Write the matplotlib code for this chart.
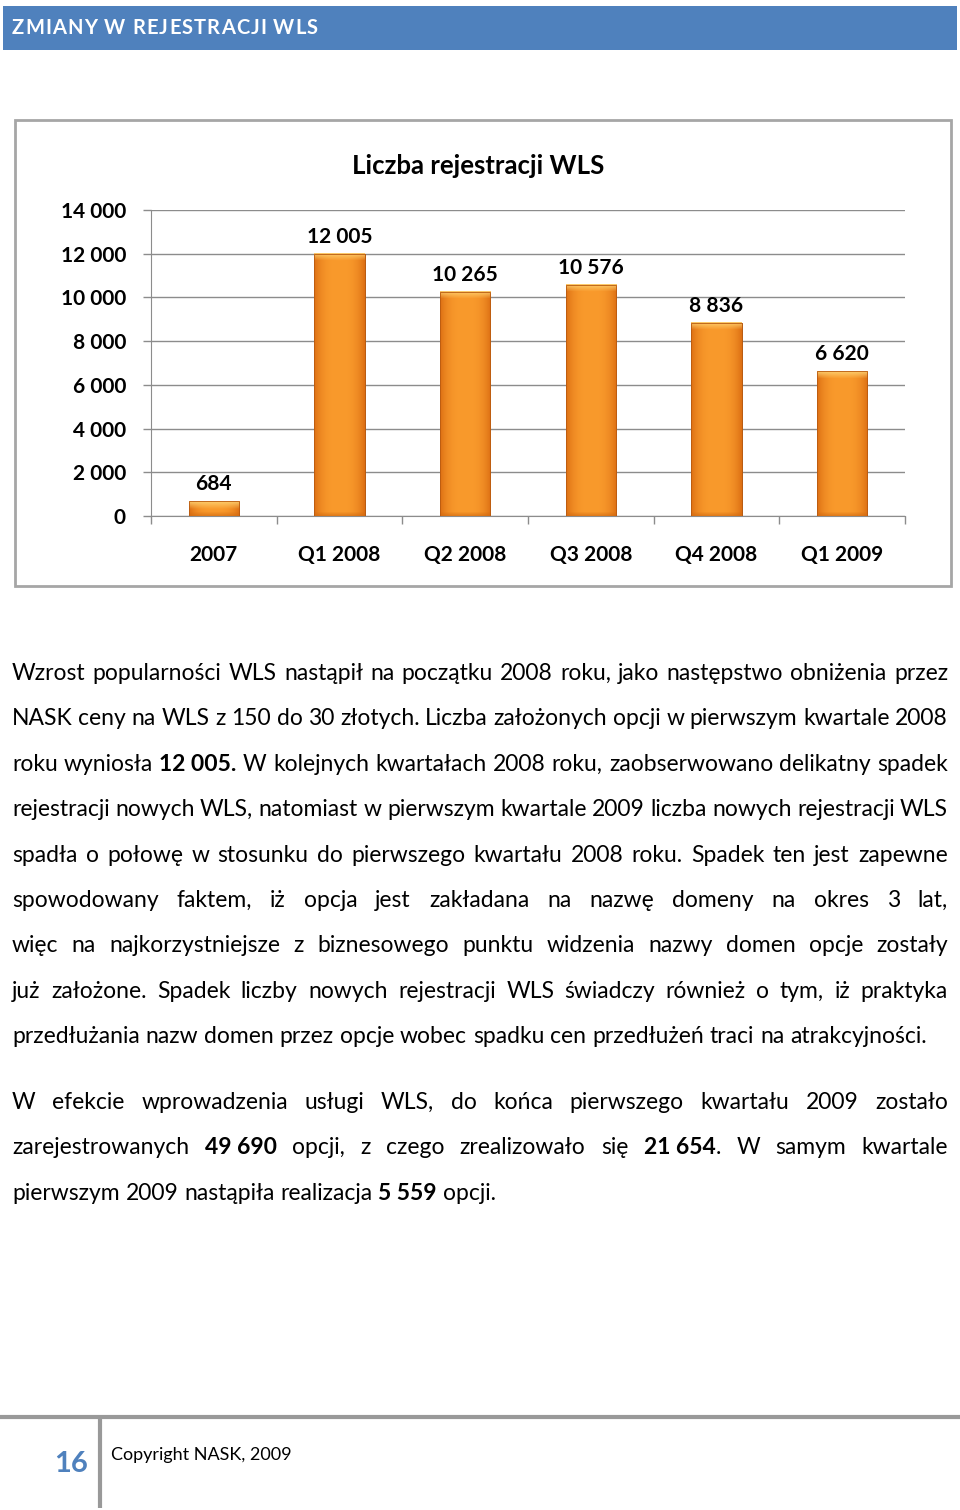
import numpy as np
import matplotlib.pyplot as plt
from matplotlib.patches import Rectangle
from matplotlib.colors import to_rgb

plt.rcParams['font.family'] = ['Lato', 'DejaVu Sans']

# dane wykresu
categories = ['2007', 'Q1 2008', 'Q2 2008', 'Q3 2008', 'Q4 2008', 'Q1 2009']
values = [684, 12005, 10265, 10576, 8836, 6620]
yticks = [0, 2000, 4000, 6000, 8000, 10000, 12000, 14000]

header = 'ZMIANY W REJESTRACJI WLS'
chart_title = 'Liczba rejestracji WLS'

# tekst strony (** = pogrubienie, \u00a0 = twarda spacja)
para1 = [
    "Wzrost popularności WLS nastąpił na początku 2008 roku, jako następstwo obniżenia przez",
    "NASK ceny na WLS z 150 do 30 złotych. Liczba założonych opcji w pierwszym kwartale 2008",
    "roku wyniosła **12\u00a0005.** W kolejnych kwartałach 2008 roku, zaobserwowano delikatny spadek",
    "rejestracji nowych WLS, natomiast w pierwszym kwartale 2009 liczba nowych rejestracji WLS",
    "spadła o połowę w stosunku do pierwszego kwartału 2008 roku. Spadek ten jest zapewne",
    "spowodowany faktem, iż opcja jest zakładana na nazwę domeny na okres 3 lat,",
    "więc na najkorzystniejsze z biznesowego punktu widzenia nazwy domen opcje zostały",
    "już założone. Spadek liczby nowych rejestracji WLS świadczy również o tym, iż praktyka",
    "przedłużania nazw domen przez opcje wobec spadku cen przedłużeń traci na atrakcyjności.",
]
para2 = [
    "W efekcie wprowadzenia usługi WLS, do końca pierwszego kwartału 2009 zostało",
    "zarejestrowanych **49\u00a0690** opcji, z czego zrealizowało się **21\u00a0654**. W samym kwartale",
    "pierwszym 2009 nastąpiła realizacja **5\u00a0559** opcji.",
]
page_no = '16'
footer = 'Copyright NASK, 2009'

BLUE = '#4F81BD'
GRAY = '#8C8C8C'

W, H = 960, 1510
fig = plt.figure(figsize=(9.6, 15.1), dpi=100)
page = fig.add_axes([0, 0, 1, 1])
page.set_xlim(0, W)
page.set_ylim(H, 0)
page.axis('off')
renderer = fig.canvas.get_renderer()


def text_w(s, bold=False, size=12):
    t = page.text(0, 0, s, fontsize=size, fontweight='bold' if bold else 'normal')
    w = t.get_window_extent(renderer).width
    t.remove()
    return w


# naglowek
page.add_patch(Rectangle((3, 6), 954, 44, color=BLUE, lw=0))
hsize = 14.5
cw = [text_w(c, True, hsize) for c in header]
track = (306 - sum(cw)) / (len(header) - 1)
xx = 12
for c, w in zip(header, cw):
    page.text(xx, 34, c, color='white', fontsize=hsize, fontweight='bold', va='baseline')
    xx += w + track

# ramka wykresu
page.add_patch(Rectangle((15, 120), 936, 466, facecolor='white', edgecolor='#A6A6A6', lw=2))
page.text(478, 166, chart_title, ha='center', va='center', fontsize=18.5, fontweight='bold')

ax = fig.add_axes([151 / W, 1 - 516 / H, (905 - 151) / W, (516 - 210) / H])
ax.patch.set_alpha(0)
x = np.arange(len(categories))
bars = ax.bar(x, values, width=0.4, color='#F7931E', edgecolor='#B85A10', linewidth=0.6, zorder=3)
ax.set_xlim(-0.5, len(categories) - 0.5)
ax.set_ylim(0, 14000)

# gradient na slupkach
c_mid = np.array(to_rgb('#F99A2C'))
c_edge = np.array(to_rgb('#DD7014'))
c_top = np.array(to_rgb('#FDD070'))
c_bot = np.array(to_rgb('#D0680F'))
for b in bars:
    x0, y0 = b.get_x(), b.get_y()
    x1, y1 = x0 + b.get_width(), y0 + b.get_height()
    ph = ax.transData.transform((0, y1))[1] - ax.transData.transform((0, y0))[1]
    ny, nx = max(int(ph), 3), 50
    t = np.linspace(0, 1, nx)
    prof = np.abs(2 * t - 1) ** 3
    row = c_mid[None, :] * (1 - prof[:, None]) + c_edge[None, :] * prof[:, None]
    img = np.repeat(row[None, :, :], ny, axis=0)
    rows = np.arange(ny)
    top = np.clip(1 - rows / 7.0, 0, 1) * 0.9
    bot = np.clip(1 - (ny - 1 - rows) / 4.0, 0, 1) * 0.6
    img = img * (1 - top[:, None, None]) + c_top[None, None, :] * top[:, None, None]
    img = img * (1 - bot[:, None, None]) + c_bot[None, None, :] * bot[:, None, None]
    ax.imshow(img, extent=(x0, x1, y0, y1), aspect='auto', zorder=3.5, interpolation='bilinear')
    ax.add_patch(Rectangle((x0, y0), x1 - x0, y1 - y0, fill=False, edgecolor='#B85A10', lw=0.6, zorder=4))
ax.set_xlim(-0.5, len(categories) - 0.5)
ax.set_ylim(0, 14000)

for xi, v in zip(x, values):
    ax.annotate(f'{v:,}'.replace(',', ' '), (xi, v), xytext=(0, 5), textcoords='offset points',
                ha='center', va='bottom', fontsize=15, fontweight='bold', zorder=5)

ax.set_xticks(x, categories)
ax.set_xticks(np.arange(-0.5, len(categories)), minor=True)
ax.set_yticks(yticks, [f'{v:,}'.replace(',', ' ') for v in yticks])
ax.tick_params(axis='x', which='major', length=0, pad=21, labelsize=15)
ax.tick_params(axis='x', which='minor', length=6, color=GRAY, width=1)
ax.tick_params(axis='y', length=6, color=GRAY, width=1, pad=12, labelsize=15)
for lab in ax.get_xticklabels() + ax.get_yticklabels():
    lab.set_fontweight('bold')
ax.yaxis.grid(True, color=GRAY, lw=1)
ax.set_axisbelow(True)
for s in ['top', 'right']:
    ax.spines[s].set_visible(False)
for s in ['left', 'bottom']:
    ax.spines[s].set_color(GRAY)


# tekst wyjustowany
def parse(line):
    words = [[]]
    for i, part in enumerate(line.split('**')):
        chunks = part.split(' ')
        for j, c in enumerate(chunks):
            if j > 0:
                words.append([])
            if c:
                words[-1].append((c, i % 2 == 1))
    return [w for w in words if w]


L, R = 12, 948
bsize = 10 * 913 / text_w(para1[-1], False, 10)
space = text_w('a a', False, bsize) - 2 * text_w('a', False, bsize)


def draw_para(lines, y0, step=45.4):
    for k, line in enumerate(lines):
        words = parse(line)
        ws = [[text_w(p, b, bsize) for p, b in w] for w in words]
        tot = sum(sum(w) for w in ws)
        last = k == len(lines) - 1
        gap = space if last else (R - L - tot) / (len(words) - 1)
        xx = L
        y = y0 + k * step
        for w, wl in zip(words, ws):
            for (p, b), pw in zip(w, wl):
                page.text(xx, y, p, fontsize=bsize, fontweight='bold' if b else 'normal', va='baseline')
                xx += pw
            xx += gap


draw_para(para1, 680)
draw_para(para2, 1109)

# stopka
page.plot([0, W], [1417, 1417], color='#999999', lw=3, solid_capstyle='butt')
page.plot([100, 100], [1417, 1508], color='#999999', lw=3, solid_capstyle='butt')
page.text(88, 1472, page_no, ha='right', va='baseline', color=BLUE, fontsize=21, fontweight='bold')
page.text(111, 1460, footer, ha='left', va='baseline', fontsize=13)

fig.savefig('out.png', dpi=100)
